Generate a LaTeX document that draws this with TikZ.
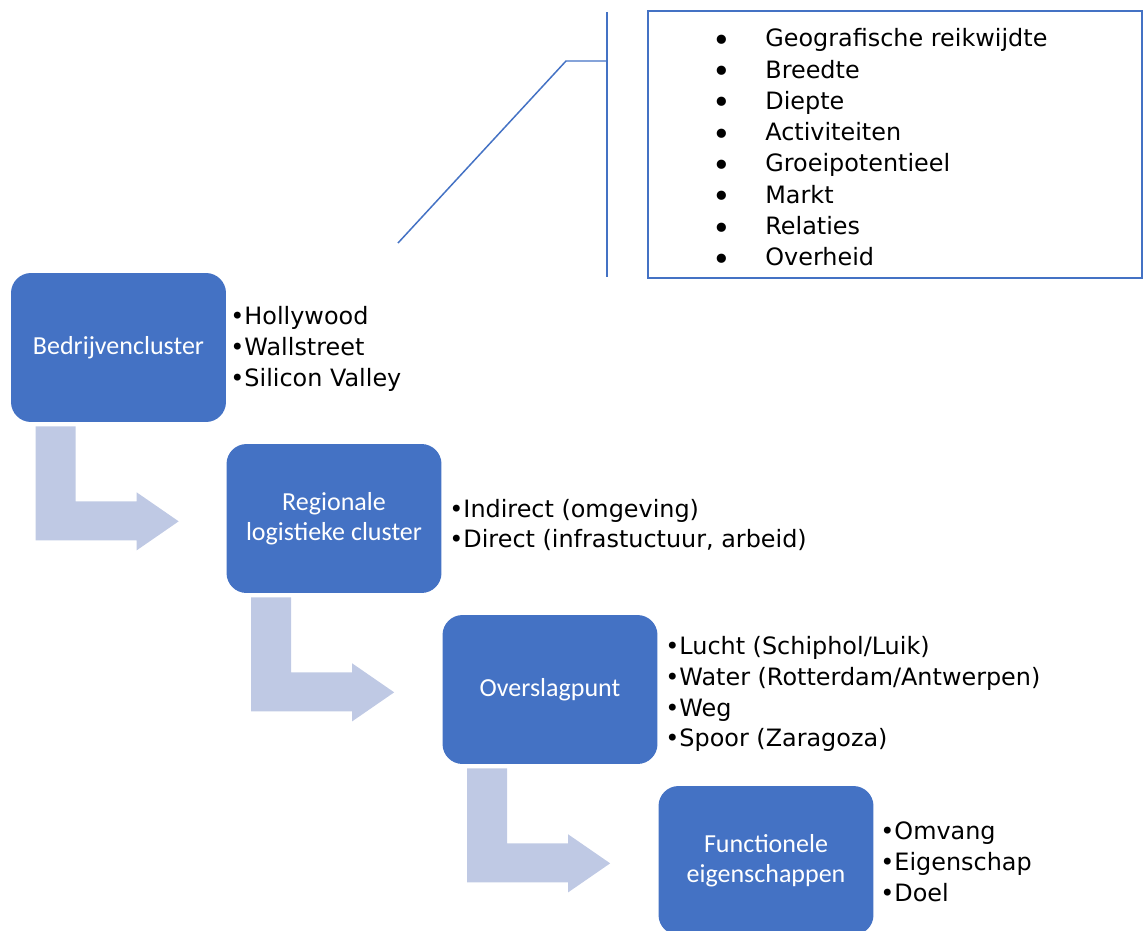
\documentclass[tikz,border=0pt]{standalone}
\usepackage{fontspec}
\setmainfont{DejaVu Sans}
\newfontfamily\boxfont{Carlito}
\definecolor{boxblue}{HTML}{4472C4}
\definecolor{arrowblue}{RGB}{191,201,228}

\begin{document}
\begin{tikzpicture}[%
      x=0.02cm, y=-0.02cm,
      stage/.style={rectangle, rounded corners=0.4cm, fill=boxblue,
        minimum width=4.3cm, minimum height=2.98cm, text=white,
        align=center, font=\boxfont\fontsize{14.8}{17}\selectfont},
      items/.style={anchor=west, inner sep=0pt, align=left,
        font=\fontsize{13.6}{17.6}\selectfont},
      regel/.style={anchor=west, inner sep=0pt, text height=10pt,
        text depth=0pt, font=\fontsize{13.6}{17.6}\selectfont},
      ]
      \useasboundingbox (0,0) rectangle (1143,930);
      \clip (0,0) rectangle (1143,930);

      % stages
      \node [stage] (bedrijf) at (118.5,347.5) {Bedrijvencluster};
      \node [stage] (regio) at (334,518.5) {Regionale\\logistieke cluster};
      \node [stage] (overslag) at (550,689.5) {Overslagpunt};
      \node [stage] (functie) at (766,860.5) {Functionele\\eigenschappen};

      % bent arrows between the stages
      \foreach \a in {bedrijf, regio, overslag}
        \fill [color=arrowblue, shift={(\a.south west)}]
          (25,4) -- (65,4) -- (65,79) -- (126,79) -- (126,70) -- (168,99)
          -- (126,128) -- (126,118) -- (25,118) -- cycle;

      % examples next to the stages
      \node [items] (lijst1) at (230,349) {•Hollywood\\•Wallstreet\\•Silicon Valley};
      \node [items] (lijst2) at (449,525) {•Indirect (omgeving)\\•Direct (infrastuctuur, arbeid)};
      \node [items] (lijst3) at (665,694) {•Lucht (Schiphol/Luik)\\•Water (Rotterdam/Antwerpen)\\•Weg\\•Spoor (Zaragoza)};
      \node [items] (lijst4) at (880,862) {•Omvang\\•Eigenschap\\•Doel};

      % callout with the factors
      \node [draw=boxblue, line width=0.85pt, minimum width=9.88cm,
        minimum height=5.34cm] (factoren) at (895,144.5) {};
      \coordinate (kop) at (398,243);
      \coordinate (knik) at (566,61);
      \coordinate (balk) at (607,61);
      \draw [color=boxblue, line width=0.85pt] (kop) -- (knik) -- (balk);
      \draw [color=boxblue, line width=0.85pt] (607,12) -- (607,277);

      \foreach \t [count=\i from 0] in {Geografische reikwijdte, Breedte,
          Diepte, Activiteiten, Groeipotentieel, Markt, Relaties, Overheid} {
        \node [regel, anchor=center, font=\fontsize{18}{18}\selectfont] (punt\i) at (722,{42.5+31.3*\i}) {•};
        \node [regel] (factor\i) at (765,{38+31.3*\i}) {\t};
      }
\end{tikzpicture}
\end{document}
